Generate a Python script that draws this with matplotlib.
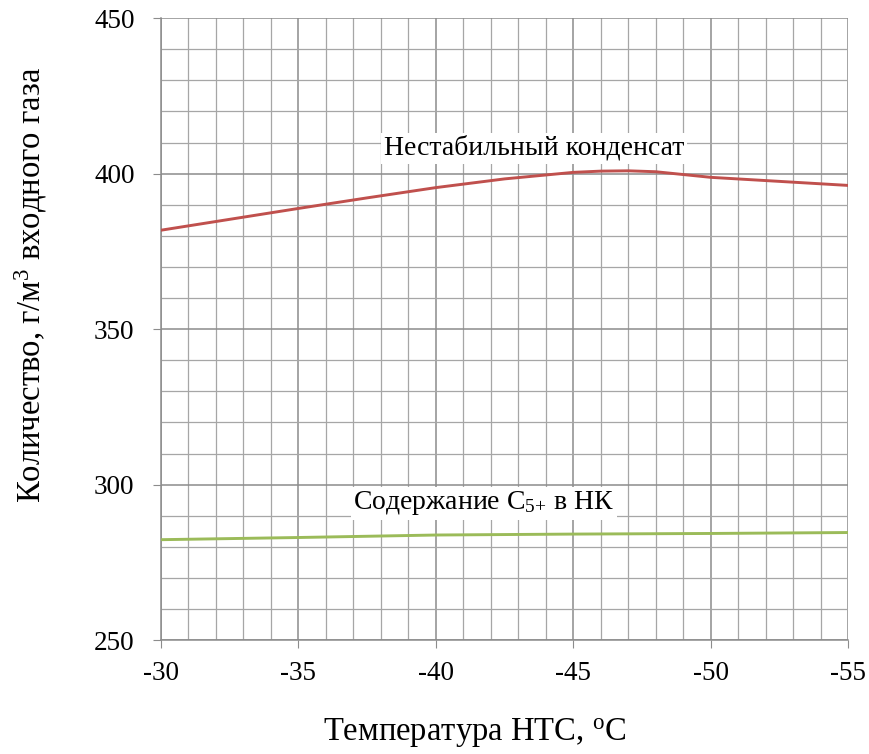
import matplotlib.pyplot as plt
from matplotlib.ticker import MultipleLocator

plt.rcParams['font.family'] = ['Liberation Serif', 'DejaVu Serif']
plt.rcParams['mathtext.fontset'] = 'custom'
plt.rcParams['mathtext.rm'] = 'Liberation Serif'
plt.rcParams['mathtext.it'] = 'Liberation Serif:italic'

# temperature of low-temperature separation, deg C
temp_unstable = [-30, -32.5, -35, -37.5, -40, -42.5, -45, -46, -47, -48, -50, -52.5, -55]
unstable_cond = [381.8, 385.3, 388.8, 392.2, 395.5, 398.3, 400.4, 400.8, 400.9, 400.6, 398.8, 397.5, 396.2]

temp_c5 = [-30, -35, -40, -45, -50, -55]
c5_content = [282.3, 283.0, 283.8, 284.1, 284.3, 284.6]

fig = plt.figure(figsize=(8.7, 7.54), dpi=100)
ax = fig.add_axes([0.185, 0.151, 0.790, 0.825])

ax.xaxis.set_major_locator(MultipleLocator(5))
ax.xaxis.set_minor_locator(MultipleLocator(1))
ax.yaxis.set_major_locator(MultipleLocator(50))
ax.yaxis.set_minor_locator(MultipleLocator(10))
ax.grid(which='major', color='#8c8c8c', linewidth=1.1)
ax.grid(which='minor', color='#a6a6a6', linewidth=0.9)
ax.set_axisbelow(True)

ax.plot(temp_unstable, unstable_cond, color='#c0504d', linewidth=2.1, zorder=3)
ax.plot(temp_c5, c5_content, color='#9bbb59', linewidth=2.1, zorder=3)

ax.set_xlim(-30, -55)
ax.set_ylim(250, 450)

for side in ['top', 'right']:
    ax.spines[side].set_visible(False)
for side in ['left', 'bottom']:
    ax.spines[side].set_color('#8c8c8c')
    ax.spines[side].set_linewidth(1.1)

ax.tick_params(which='major', direction='out', length=6, color='#8c8c8c', labelsize=19.5)
ax.tick_params(axis='y', pad=13)
ax.tick_params(axis='x', pad=9)
ax.tick_params(which='minor', length=0)
ax.set_xticks([-30, -35, -40, -45, -50, -55])
ax.set_xticklabels(['-30', '-35', '-40', '-45', '-50', '-55'])

ax.text(-38.1, 408.2, 'Нестабильный конденсат', fontsize=20, va='center', ha='left',
        bbox=dict(facecolor='white', edgecolor='none', pad=2), zorder=4)
ax.text(-37.0, 294.0, 'Содержание С$_{5{+}}$ в НК', fontsize=20, va='center', ha='left',
        bbox=dict(facecolor='white', edgecolor='none', pad=2), zorder=4)

fig.text(0.546, 0.027, 'Температура НТС, $^{\\mathrm{o}}$С', fontsize=23.5, ha='center', va='center')
fig.text(0.035, 0.622, 'Количество, г/м$^{3}$ входного газа', fontsize=23.5, ha='center',
         va='center', rotation=90)

fig.savefig('out.png', dpi=100)
